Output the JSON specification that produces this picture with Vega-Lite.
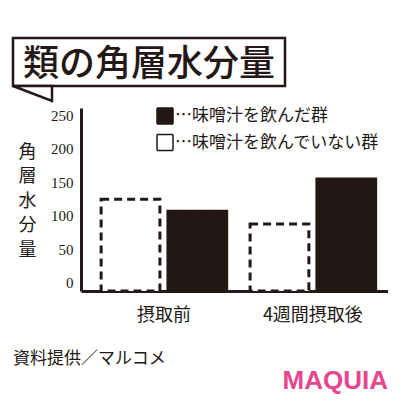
{
  "$schema": "https://vega.github.io/schema/vega-lite/v6.json",
  "background": "white",
  "padding": {"left": 6, "top": 36, "right": 0, "bottom": 0},
  "spacing": -3,
  "resolve": {"legend": {"fill": "independent"}},
  "title": {
    "text": "MAQUIA",
    "orient": "bottom",
    "anchor": "end",
    "font": "Liberation Sans",
    "fontSize": 26,
    "fontWeight": "bold",
    "color": "#e6468f",
    "offset": 1
  },
  "vconcat": [
    {
      "width": 272,
      "height": 48,
      "view": {"stroke": "#231815", "strokeWidth": 2.5, "fill": "white"},
      "data": {"values": [{"heading": "類の角層水分量"}]},
      "layer": [
        {
          "mark": {
            "type": "point",
            "shape": "M-2.72,0.48L-1.94,0.78L-1.94,0.48Z",
            "size": 10000,
            "filled": true,
            "fill": "white",
            "stroke": "#231815",
            "strokeWidth": 2.5,
            "opacity": 1
          },
          "encoding": {}
        },
        {
          "mark": {
            "type": "text",
            "font": "Noto Sans CJK JP",
            "fontSize": 36,
            "fontWeight": 500,
            "color": "#231815",
            "dy": 3
          },
          "encoding": {"text": {"field": "heading"}}
        }
      ]
    },
    {
      "width": 375,
      "height": 183,
      "view": {"stroke": null},
      "title": {
        "text": "資料提供／マルコメ",
        "orient": "bottom",
        "anchor": "start",
        "frame": "bounds",
        "font": "Noto Sans CJK JP",
        "fontSize": 17,
        "fontWeight": "normal",
        "color": "#231815",
        "offset": 27
      },
      "data": {
        "values": [
          {"timing": "摂取前", "group": "味噌汁を飲んでいない群", "value": 125},
          {"timing": "摂取前", "group": "味噌汁を飲んだ群", "value": 107},
          {"timing": "4週間摂取後", "group": "味噌汁を飲んでいない群", "value": 88},
          {"timing": "4週間摂取後", "group": "味噌汁を飲んだ群", "value": 155}
        ]
      },
      "mark": {"type": "bar", "stroke": "#231815", "strokeWidth": 3},
      "encoding": {
        "x": {
          "field": "timing",
          "type": "nominal",
          "sort": ["摂取前", "4週間摂取後"],
          "scale": {"range": [68, 375], "paddingInner": 0.157, "paddingOuter": 0.109, "align": 0.62},
          "axis": {
            "title": null,
            "labelAngle": 0,
            "ticks": false,
            "domainWidth": 3,
            "domainColor": "#231815",
            "labelFont": "Noto Sans CJK JP",
            "labelFontSize": 18,
            "labelColor": "#231815",
            "labelPadding": 15
          }
        },
        "xOffset": {
          "field": "group",
          "type": "nominal",
          "scale": {
            "domain": ["味噌汁を飲んでいない群", "味噌汁を飲んだ群"],
            "paddingInner": 0.12,
            "paddingOuter": 0
          }
        },
        "y": {
          "field": "value",
          "type": "quantitative",
          "scale": {"domain": [-12, 261], "nice": false, "zero": false},
          "axis": {
            "offset": -68,
            "values": [0, 50, 100, 150, 200, 250],
            "grid": false,
            "ticks": false,
            "domainWidth": 3,
            "domainColor": "#231815",
            "labelFont": "Liberation Sans Narrow",
            "labelFontSize": 15,
            "labelColor": "#231815",
            "labelPadding": 8,
            "title": ["角", "層", "水", "分", "量"],
            "titleAngle": 0,
            "titleAlign": "center",
            "titleBaseline": "top",
            "titleX": -54,
            "titleY": 35,
            "titleFont": "Noto Sans CJK JP",
            "titleFontSize": 18,
            "titleFontWeight": "normal",
            "titleColor": "#231815",
            "titleLineHeight": 24.5
          }
        },
        "y2": {"datum": -12},
        "fill": {
          "field": "group",
          "type": "nominal",
          "scale": {
            "domain": ["味噌汁を飲んだ群", "味噌汁を飲んでいない群"],
            "range": ["#231815", "#ffffff"]
          },
          "legend": {
            "title": null,
            "orient": "none",
            "legendX": 143,
            "legendY": -1,
            "padding": 0,
            "symbolType": "square",
            "symbolSize": 256,
            "symbolStrokeColor": "#231815",
            "symbolStrokeWidth": 1.5,
            "labelFont": "Noto Sans CJK JP",
            "labelFontSize": 17,
            "labelColor": "#231815",
            "labelOffset": 1,
            "labelLimit": 300,
            "rowPadding": 4.5,
            "labelExpr": "'…' + datum.label",
            "encode": {
              "symbols": {
                "update": {
                  "stroke": {"value": "#231815"},
                  "strokeWidth": {"value": 1.5},
                  "strokeDash": {"value": [1, 0]}
                }
              }
            }
          }
        },
        "strokeDash": {
          "condition": {"test": "datum.group === '味噌汁を飲んでいない群'", "value": [8, 5]},
          "value": [1, 0]
        }
      }
    }
  ]
}
